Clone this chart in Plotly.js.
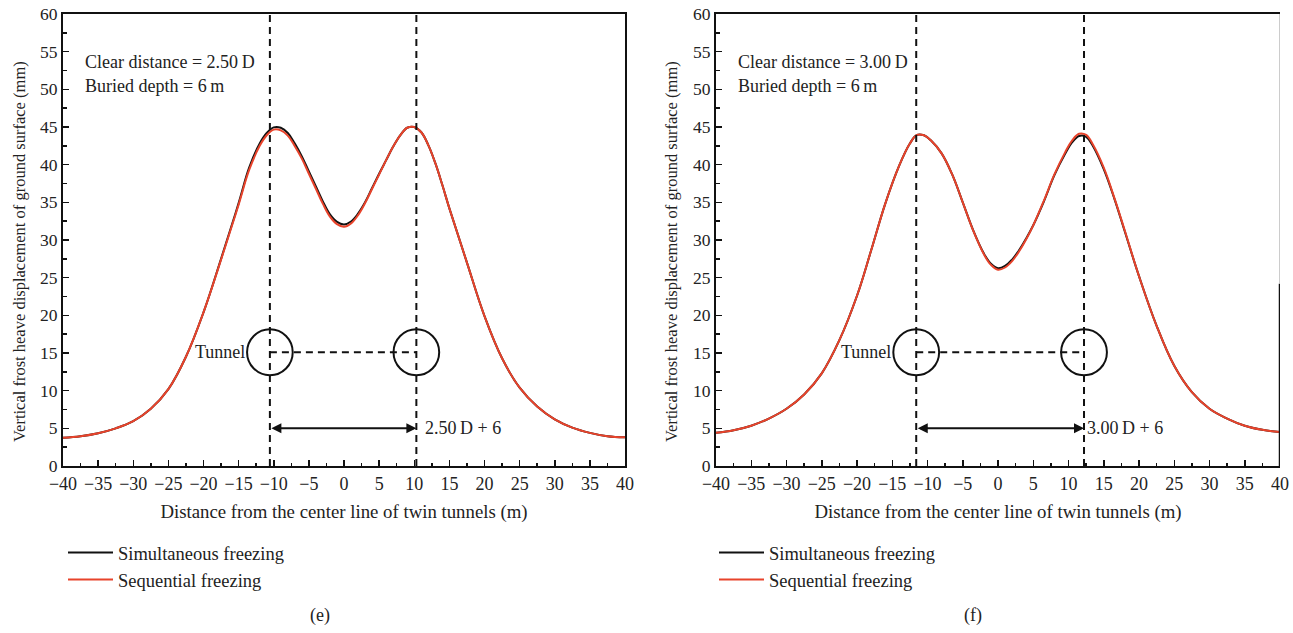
<!DOCTYPE html>
<html>
<head>
<meta charset="utf-8">
<script src="https://cdn.plot.ly/plotly-3.0.1.min.js"></script>
<style>
  html, body { margin: 0; padding: 0; background: #fff; }
  #chart { width: 1293px; height: 633px; }
</style>
</head>
<body>
<div id="chart"></div>
<script>
// ---------- Panel (e): clear distance 2.50 D ----------
const xE   = [-40,-37.5,-35,-32.5,-30,-27.5,-25,-22.5,-20,-17.5,-15,-13.5,-12,-11,-10,-9,-8,-7,-6,-5,-4,-3,-2,-1,0,1,2,3,4,5,6,7,8,9,10,11,12,13,14,15,17.5,20,22.5,25,27.5,30,32.5,35,37.5,40];
const simE = [3.75,3.95,4.35,5.0,5.95,7.6,10.2,14.5,20.4,27.5,34.9,39.6,42.8,44.2,44.95,44.9,44.2,42.8,41.1,39.1,37.1,35.1,33.4,32.4,32.05,32.45,33.5,35.0,36.9,38.8,40.6,42.4,43.9,44.9,45.0,44.3,42.6,40.2,37.3,34.2,27.0,19.9,14.3,10.4,7.9,6.2,5.1,4.4,3.95,3.8];
const seqE = [3.75,3.95,4.35,5.0,5.95,7.6,10.2,14.5,20.4,27.4,34.7,39.3,42.5,43.9,44.65,44.55,43.85,42.45,40.8,38.8,36.8,34.8,33.1,32.1,31.75,32.2,33.3,34.9,36.8,38.7,40.6,42.4,43.9,44.9,45.0,44.3,42.6,40.2,37.3,34.2,27.0,19.9,14.3,10.4,7.9,6.2,5.1,4.4,3.95,3.8];
const tunnelsE = [-10.55, 10.3];

// ---------- Panel (f): clear distance 3.00 D ----------
const xF   = [-40,-37.5,-35,-32.5,-30,-27.5,-25,-22.5,-20,-18,-16,-14,-12.5,-11.5,-10.5,-9.5,-8,-6.5,-5,-3.5,-2,-1,0,1,2,3,4,5,6.5,8,9.5,10.5,11.5,12.5,13.5,15,16.5,18,20,22.5,25,27.5,30,32.5,35,37.5,40];
const simF = [4.4,4.75,5.35,6.3,7.6,9.5,12.3,16.7,22.6,28.6,34.8,39.9,42.8,43.95,43.9,43.2,41.5,38.7,35.0,31.25,28.2,26.85,26.25,26.55,27.4,28.65,30.2,31.95,35.1,38.6,41.4,42.95,43.8,43.7,42.4,39.4,35.5,31.1,25.2,18.6,13.3,9.8,7.6,6.3,5.35,4.8,4.5];
const seqF = [4.4,4.75,5.35,6.3,7.6,9.5,12.3,16.7,22.6,28.6,34.8,39.9,42.8,43.95,43.9,43.2,41.5,38.7,35.0,31.2,28.1,26.7,26.05,26.35,27.2,28.5,30.1,31.95,35.2,38.7,41.6,43.2,44.1,43.95,42.6,39.6,35.6,31.2,25.2,18.6,13.3,9.8,7.6,6.3,5.35,4.8,4.5];
const tunnelsF = [-11.6, 12.2];

const seriesNames = ["Simultaneous freezing", "Sequential freezing"];
const xTicks = [-40,-35,-30,-25,-20,-15,-10,-5,0,5,10,15,20,25,30,35,40];
const yTicks = [0,5,10,15,20,25,30,35,40,45,50,55,60];
const xTitle = "Distance from the center line of twin tunnels (m)";
const yTitle = "Vertical frost heave displacement of ground surface (mm)";
const labelsE = ["Clear distance = 2.50\u2009D", "Buried depth = 6\u2009m", "2.50\u2009D + 6", "(e)"];
const labelsF = ["Clear distance = 3.00\u2009D", "Buried depth = 6\u2009m", "3.00\u2009D + 6", "(f)"];

const FONT = "Liberation Serif, Times New Roman, serif";
const TXT = "#222222";
const BLACK = "#111111";
const RED = "#e8432b";

function curve(x, y, name, color, xa, ya, lg) {
  return {x: x, y: y, name: name, xaxis: xa, yaxis: ya, mode: "lines",
          line: {color: color, width: 2, shape: "spline", smoothing: 1.1}, legend: lg};
}
const traces = [
  curve(xE, simE, seriesNames[0], BLACK, "x", "y", "legend"),
  curve(xE, seqE, seriesNames[1], RED, "x", "y", "legend"),
  curve(xF, simF, seriesNames[0], BLACK, "x2", "y2", "legend2"),
  curve(xF, seqF, seriesNames[1], RED, "x2", "y2", "legend2")
];

function xAxis(domain, anchor) {
  return {
    domain: domain, anchor: anchor, range: [-40, 40], tickvals: xTicks,
    ticks: "inside", ticklen: 6, tickwidth: 1.5, tickcolor: BLACK,
    minor: {dtick: 2.5, ticks: "inside", ticklen: 3.5, tickwidth: 1.5, tickcolor: BLACK},
    showline: true, linecolor: BLACK, linewidth: 2, mirror: true,
    showgrid: false, zeroline: false,
    tickfont: {family: FONT, size: 18, color: TXT},
    title: {text: xTitle, standoff: 12, font: {family: FONT, size: 18.8, color: TXT}}
  };
}
function yAxis(domain, anchor, mirror) {
  return {
    domain: domain, anchor: anchor, range: [0, 60], tickvals: yTicks,
    ticks: "inside", ticklen: 6, tickwidth: 1.5, tickcolor: BLACK,
    minor: {dtick: 2.5, ticks: "inside", ticklen: 3.5, tickwidth: 1.5, tickcolor: BLACK},
    showline: true, linecolor: BLACK, linewidth: 2, mirror: mirror,
    showgrid: false, zeroline: false,
    tickfont: {family: FONT, size: 17.5, color: TXT}
  };
}

function panelShapes(xr, yr, t) {
  const cy = 15.1, rx = 3.25, ry = 3.05;
  const dash = {color: BLACK, width: 2, dash: "7px,5px"};
  return [
    {type: "line", xref: xr, yref: yr, x0: t[0], x1: t[0], y0: 0, y1: 60, line: dash},
    {type: "line", xref: xr, yref: yr, x0: t[1], x1: t[1], y0: 0, y1: 60, line: dash},
    {type: "line", xref: xr, yref: yr, x0: t[0], x1: t[1], y0: cy, y1: cy, line: dash},
    {type: "circle", xref: xr, yref: yr, x0: t[0]-rx, x1: t[0]+rx, y0: cy-ry, y1: cy+ry, line: {color: BLACK, width: 2}},
    {type: "circle", xref: xr, yref: yr, x0: t[1]-rx, x1: t[1]+rx, y0: cy-ry, y1: cy+ry, line: {color: BLACK, width: 2}}
  ];
}

function panelAnnotations(xr, yr, t, labels, capX, yTitleX, labelOffset) {
  const f = {family: FONT, size: 18, color: TXT};
  return [
    {xref: xr, yref: yr, x: -37.1, y: 53.6, text: labels[0], showarrow: false, xanchor: "left", yanchor: "middle", font: f},
    {xref: xr, yref: yr, x: -37.1, y: 50.5, text: labels[1], showarrow: false, xanchor: "left", yanchor: "middle", font: f},
    {xref: xr, yref: yr, x: t[0]-3.3, y: 15.1, text: "Tunnel", showarrow: false, xanchor: "right", yanchor: "middle", font: f},
    {xref: xr, yref: yr, x: t[1]+labelOffset, y: 5, text: labels[2], showarrow: false, xanchor: "left", yanchor: "middle", font: f},
    {xref: xr, yref: yr, axref: xr, ayref: yr, x: t[1], y: 5, ax: t[0], ay: 5, text: "",
     showarrow: true, arrowhead: 2, arrowside: "end+start", arrowsize: 1, arrowwidth: 2, arrowcolor: BLACK, standoff: 0, startstandoff: 0},
    {xref: "paper", yref: "paper", x: capX, y: 1 - 615/633, text: labels[3], showarrow: false, xanchor: "center", yanchor: "middle", font: f},
    {xref: "paper", yref: "paper", x: yTitleX, y: 1 - 252/633, text: yTitle, textangle: -90, showarrow: false,
     xanchor: "center", yanchor: "middle", font: {family: FONT, size: 16.5, color: TXT}}
  ];
}

const yDom = [1 - 466/633, 1 - 14/633];
const legendBase = {xanchor: "left", yanchor: "top", bgcolor: "rgba(0,0,0,0)", itemwidth: 45,
                    font: {family: FONT, size: 18.5, color: TXT}, tracegroupgap: 0};
const layout = {
  width: 1293, height: 633,
  margin: {l: 0, r: 0, t: 0, b: 0},
  paper_bgcolor: "#fff", plot_bgcolor: "#fff",
  font: {family: FONT, size: 16, color: TXT},
  xaxis: xAxis([63/1293, 625/1293], "y"),
  yaxis: yAxis(yDom, "x", true),
  xaxis2: xAxis([716/1293, 1280/1293], "y2"),
  yaxis2: yAxis(yDom, "x2", false),
  legend: Object.assign({x: 63/1293, y: 1 - 534/633}, legendBase),
  legend2: Object.assign({x: 714/1293, y: 1 - 534/633}, legendBase),
  shapes: [].concat(
    panelShapes("x", "y", tunnelsE),
    panelShapes("x2", "y2", tunnelsF),
    [
      {type: "line", xref: "x2", yref: "y2", x0: 40, x1: 40, y0: 0, y1: 24.2, line: {color: BLACK, width: 2.5}},
      {type: "line", xref: "x2", yref: "y2", x0: 40, x1: 40, y0: 24.2, y1: 60, line: {color: "#999", width: 1}}
    ]
  ),
  annotations: [].concat(
    panelAnnotations("x", "y", tunnelsE, labelsE, 320/1293, 19/1293, 0.9),
    panelAnnotations("x2", "y2", tunnelsF, labelsF, 973/1293, 671/1293, 0.15)
  ),
  showlegend: true
};

Plotly.newPlot("chart", traces, layout, {displayModeBar: false, staticPlot: true});
</script>
</body>
</html>
